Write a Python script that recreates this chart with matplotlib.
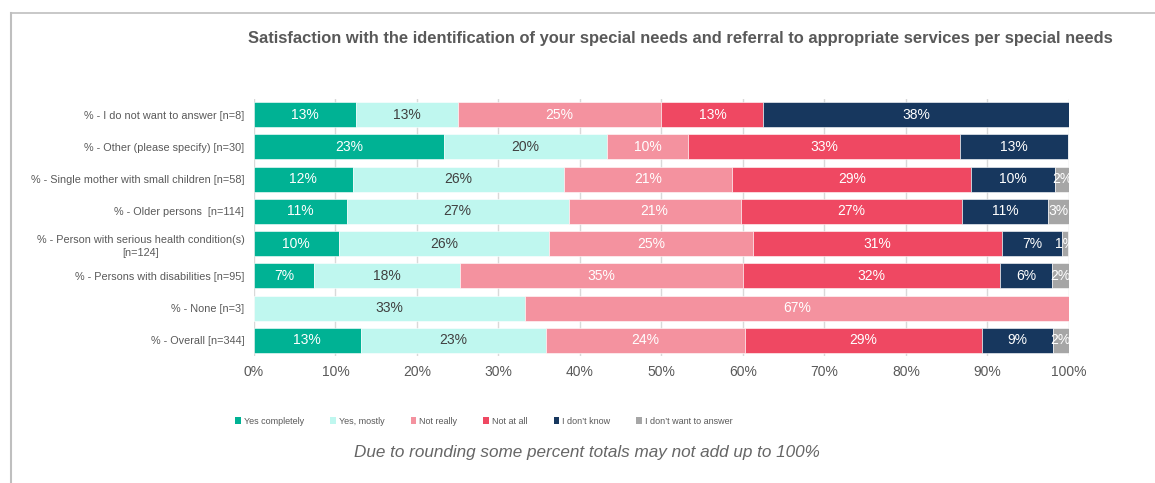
import math
import matplotlib.pyplot as plt
from matplotlib.patches import Patch
from matplotlib.lines import Line2D

plt.rcParams['font.family'] = ['Liberation Sans', 'DejaVu Sans']

# groups, top to bottom
groups = [
    '% - I do not want to answer [n=8]',
    '% - Other (please specify) [n=30]',
    '% - Single mother with small children [n=58]',
    '% - Older persons  [n=114]',
    '% - Person with serious health condition(s)\n[n=124]',
    '% - Persons with disabilities [n=95]',
    '% - None [n=3]',
    '% - Overall [n=344]',
]
answers = ['Yes completely', 'Yes, mostly', 'Not really', 'Not at all',
           'I don\u2019t know', 'I don\u2019t want to answer']

# percentage of respondents per answer, one list per answer (same order as groups)
yes_completely = [12.5, 23.3, 12.1, 11.4, 10.4, 7.4, 0.0, 13.1]
yes_mostly = [12.5, 20.0, 25.9, 27.2, 25.8, 17.9, 33.3, 22.7]
not_really = [25.0, 10.0, 20.7, 21.1, 25.0, 34.7, 66.7, 24.4]
not_at_all = [12.5, 33.3, 29.3, 27.2, 30.6, 31.6, 0.0, 29.1]
dont_know = [37.5, 13.3, 10.3, 10.5, 7.3, 6.3, 0.0, 8.7]
no_answer = [0.0, 0.0, 1.7, 2.6, 0.8, 2.1, 0.0, 2.0]
series = [yes_completely, yes_mostly, not_really, not_at_all, dont_know, no_answer]

colors = ['#00B294', '#BFF7EF', '#F4929F', '#EF4862', '#17375E', '#A6A6A6']
text_colors = ['white', '#404040', 'white', 'white', 'white', 'white']

fig = plt.figure(figsize=(11.55, 4.83), dpi=100)
ax = fig.add_axes([0.2199, 0.262, 0.7056, 0.534])

ypos = list(range(len(groups)))
left = [0.0] * len(groups)
for vals, col, tcol in zip(series, colors, text_colors):
    ax.barh(ypos, vals, left=left, height=0.78, color=col,
            edgecolor='white', linewidth=0.4, zorder=2)
    for i, v in enumerate(vals):
        if v > 0:
            ax.text(left[i] + v / 2, i, '%d%%' % math.floor(v + 0.5),
                    ha='center', va='center', color=tcol, fontsize=10, zorder=3)
    left = [l + v for l, v in zip(left, vals)]

ax.set_xlim(0, 100)
ax.set_ylim(len(groups) - 0.5, -0.5)
ax.set_xticks(range(0, 101, 10))
ax.set_xticklabels(['%d%%' % t for t in range(0, 101, 10)])
ax.set_yticks(ypos)
ax.set_yticklabels(groups, fontsize=7.8, color='#595959',
                   linespacing=1.45, multialignment='center')
ax.tick_params(axis='x', colors='#595959', labelsize=10, length=0, pad=6)
ax.tick_params(axis='y', length=0, pad=7)
ax.grid(axis='x', color='#D9D9D9', linewidth=1, zorder=0)
ax.set_axisbelow(True)
for s in ax.spines.values():
    s.set_visible(False)

fig.text(0.5895, 0.921, 'Satisfaction with the identification of your special needs '
         'and referral to appropriate services per special needs',
         ha='center', va='center', fontsize=11.9, fontweight='bold', color='#595959')

handles = [Patch(facecolor=c, edgecolor='none') for c in colors]
fig.legend(handles, answers, loc='center', bbox_to_anchor=(0.419, 0.128), ncol=6,
           frameon=False, fontsize=6.5, handlelength=0.65, handleheight=0.65,
           handletextpad=0.3, columnspacing=2.9, labelcolor='#595959')

fig.text(0.508, 0.064, 'Due to rounding some percent totals may not add up to 100%',
         ha='center', va='center', fontsize=12.3, style='italic', color='#666666')

# outer frame: top and left edges
fig.add_artist(Line2D([0.0095, 1.0], [0.973, 0.973], color='#BFBFBF', linewidth=1.2))
fig.add_artist(Line2D([0.0095, 0.0095], [0.0, 0.973], color='#BFBFBF', linewidth=1.5))

fig.savefig('out.png', dpi=100, facecolor='white')
